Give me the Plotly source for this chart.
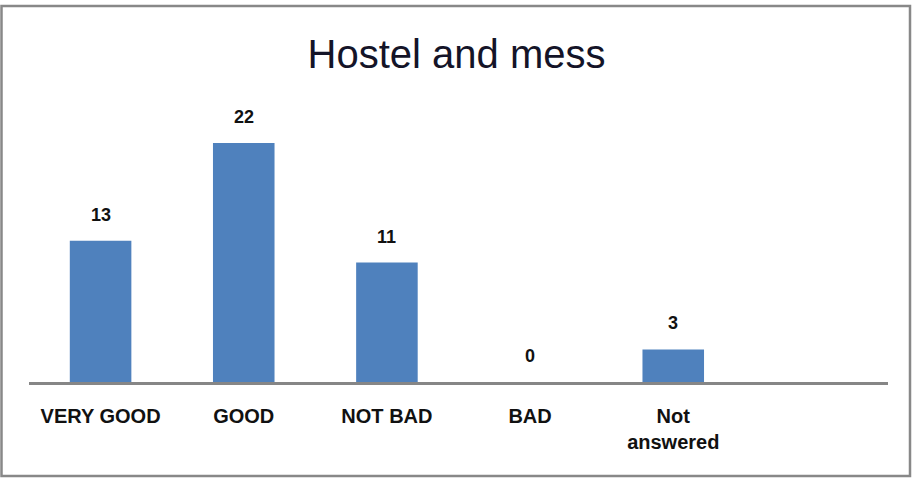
import plotly.graph_objects as go

categories = ["VERY GOOD", "GOOD", "NOT BAD", "BAD", "Not<br>answered", " "]
values = [13, 22, 11, 0, 3, None]
value_labels = ["13", "22", "11", "0", "3", ""]
title_text = "Hostel and mess"

W, H = 913, 479
ml, mr, mt, mb = 29, 25, 100, 97
pw = W - ml - mr
ph = H - mt - mb

fig = go.Figure()
fig.add_trace(go.Bar(
    x=categories, y=values,
    marker=dict(color="#4F81BD", line=dict(width=0)),
    hoverinfo="skip",
))

for c, v, t in zip(categories, values, value_labels):
    if v is None:
        continue
    fig.add_annotation(x=c, y=v, text=t, showarrow=False, yanchor="middle",
                       yshift=26,
                       font=dict(family="Liberation Sans", size=18, color="#111111", weight="bold"))

def px_x(p):
    return (p - ml) / pw

def px_y(p):
    return (H - mb - p) / ph

fig.add_shape(type="rect", xref="paper", yref="paper",
              x0=px_x(1.5), x1=px_x(910), y0=px_y(476), y1=px_y(6),
              line=dict(color="#888888", width=2.5), fillcolor="rgba(0,0,0,0)", layer="above")

fig.update_layout(
    width=W, height=H,
    margin=dict(l=ml, r=mr, t=mt, b=mb),
    paper_bgcolor="white", plot_bgcolor="white",
    bargap=0.57,
    showlegend=False,
    title=dict(text=title_text, x=0.5, xanchor="center", y=1 - 54 / H, yanchor="middle",
               font=dict(family="Liberation Sans", size=40, color="#141428")),
    xaxis=dict(showline=True, linecolor="#868686", linewidth=2.5, ticks="",
               showgrid=False, zeroline=False, ticklabelstandoff=14,
               tickfont=dict(family="Liberation Sans", size=20, color="#111111", weight="bold")),
    yaxis=dict(range=[0, ph / 10.86], visible=False, showgrid=False, zeroline=False),
)

fig.write_html("out.html", config={"displayModeBar": False, "staticPlot": True},
               post_script="document.body.style.margin='0';document.body.style.overflow='hidden';")
